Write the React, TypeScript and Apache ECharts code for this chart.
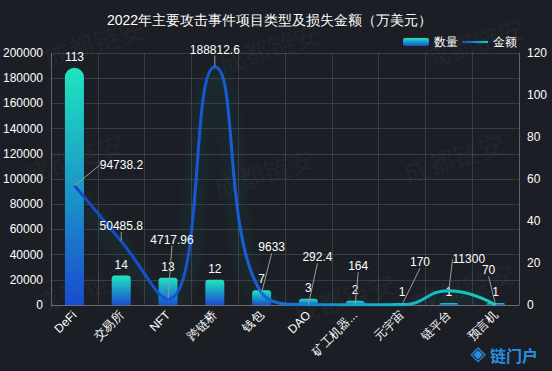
import React, { useEffect, useRef } from "react";
import * as echarts from "echarts";

const categories = ["DeFi", "交易所", "NFT", "跨链桥", "钱包", "DAO", "矿工机器人", "元宇宙", "链平台", "预言机"];
const countValues = [113, 14, 13, 12, 7, 3, 2, 1, 1, 1];
const amountValues = [94738.2, 50485.8, 4717.96, 188812.6, 9633, 292.4, 164, 170, 11300, 70];
const leftTicks = { min: 0, max: 200000, interval: 20000 };
const rightTicks = { min: 0, max: 120, interval: 20 };

// label offsets (style) for the amount labels
const labelDx = [47, 0, 4, 0, 10, 9, 3, 18, 20, -7];
const labelDy = [-9, -4, -48, -6, -34, -36, -27, -31, -20, -23];

const watermarks = [
  [40, 45], [215, 50], [420, 45],
  [20, 160], [210, 175], [400, 160],
  [30, 290], [290, 300], [410, 290],
];

export default function App() {
  const ref = useRef<HTMLDivElement>(null);
  useEffect(() => {
    document.body.style.margin = "0";
    const chart = echarts.init(ref.current!, null, { renderer: "svg" });
    const gridColor = "rgba(255,255,255,0.13)";
    const lineGradient = () =>
      new echarts.graphic.LinearGradient(0, 0, 1, 0, [
        { offset: 0, color: "#1a45c8" },
        { offset: 0.45, color: "#1560d8" },
        { offset: 0.7, color: "#16acc8" },
        { offset: 1, color: "#19cbc0" },
      ]);
    const option: any = {
      animation: false,
      backgroundColor: "#1b1e24",
      title: {
        text: "2022年主要攻击事件项目类型及损失金额（万美元）",
        left: 102,
        top: 8,
        textStyle: { color: "#ffffff", fontSize: 14, fontWeight: "normal" },
      },
      legend: {
        right: 30,
        top: 31,
        itemWidth: 26,
        itemHeight: 8,
        itemGap: 4,
        textStyle: { color: "#ffffff", fontSize: 12 },
        data: [
          { name: "数量" },
          {
            name: "金额",
            icon: "path://M0,3 L26,3 L26,5.2 L0,5.2 Z",
            itemStyle: {
              color: new echarts.graphic.LinearGradient(0, 0, 1, 0, [
                { offset: 0, color: "#1a45c8" },
                { offset: 1, color: "#19cbc0" },
              ]),
            },
          },
        ],
      },
      grid: { left: 50, right: 33, top: 53, bottom: 66, containLabel: false },
      xAxis: {
        type: "category",
        data: categories,
        axisLine: { lineStyle: { color: "rgba(255,255,255,0.25)" } },
        axisTick: { show: false },
        splitLine: { show: true, lineStyle: { color: gridColor } },
        axisLabel: {
          color: "#ffffff",
          fontSize: 12,
          rotate: 45,
          interval: 0,
          formatter: (v: string) => (v.length > 4 ? v.slice(0, 4) + "..." : v),
        },
      },
      yAxis: [
        {
          type: "value",
          ...leftTicks,
          axisLine: { show: true, lineStyle: { color: "rgba(255,255,255,0.2)" } },
          axisTick: { show: false },
          splitLine: { show: true, lineStyle: { color: gridColor } },
          axisLabel: { color: "#ffffff", fontSize: 12, margin: 8, formatter: (v: number) => String(v) },
        },
        {
          type: "value",
          ...rightTicks,
          axisLine: { show: true, lineStyle: { color: "rgba(255,255,255,0.2)" } },
          axisTick: { show: false },
          splitLine: { show: false },
          axisLabel: { color: "#ffffff", fontSize: 12, margin: 8 },
        },
      ],
      graphic: [
        ...watermarks.map(([x, y]) => ({
          type: "text",
          x,
          y,
          rotation: 0.3,
          silent: true,
          z: 0,
          style: {
            text: "成都链安",
            fill: "rgba(255,255,255,0.045)",
            font: "26px 'Noto Sans CJK SC'",
          },
        })),
        {
          type: "text",
          right: 14,
          bottom: 8,
          style: {
            text: "链门户",
            fill: "#2a8fe0",
            font: "bold 16px 'Noto Sans CJK SC'",
          },
        },
        {
          type: "text",
          right: 66,
          bottom: 8,
          style: {
            text: "◈",
            fill: "#2a8fe0",
            font: "bold 20px 'DejaVu Sans'",
          },
        },
      ],
      series: [
        {
          name: "数量",
          type: "bar",
          yAxisIndex: 1,
          barWidth: 19,
          z: 2,
          data: countValues.map((v, i) => ({
            value: v,
            itemStyle: { borderRadius: i === 0 ? [10, 10, 0, 0] : [3, 3, 0, 0] },
          })),
          itemStyle: {
            color: new echarts.graphic.LinearGradient(0, 0, 0, 1, [
              { offset: 0, color: "#1ee6c0" },
              { offset: 1, color: "#1a4bcf" },
            ]),
          },
          label: { show: true, position: "top", color: "#ffffff", fontSize: 12 },
        },
        {
          name: "金额",
          type: "line",
          yAxisIndex: 0,
          smooth: true,
          z: 3,
          showSymbol: true,
          symbol: "circle",
          symbolSize: 1,
          itemStyle: { color: "rgba(0,0,0,0)" },
          lineStyle: {
            width: 3,
            color: lineGradient(),
            shadowColor: "rgba(25,200,200,0.4)",
            shadowBlur: 18,
            shadowOffsetY: 8,
          },
          data: amountValues,
          label: { show: true, position: "top", color: "#ffffff", fontSize: 12 },
          labelLine: { show: true, lineStyle: { color: "#9a9a9a", width: 1 } },
          labelLayout: (p: any) => ({ dx: labelDx[p.dataIndex], dy: labelDy[p.dataIndex] }),
        },
      ],
    };
    chart.setOption(option);
    return () => chart.dispose();
  }, []);
  return <div ref={ref} style={{ position: "fixed", left: 0, top: 0, width: 552, height: 371 }} />;
}
